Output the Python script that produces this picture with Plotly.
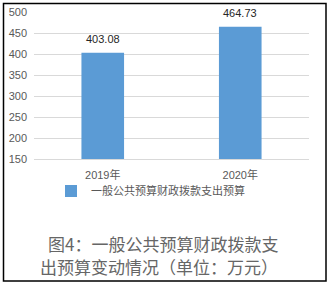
import plotly.graph_objects as go

categories = ["2019年", "2020年"]
values = [403.08, 464.73]
series_name = "一般公共预算财政拨款支出预算"
title_lines = ["图4：一般公共预算财政拨款支", "出预算变动情况（单位：万元）"]
y_ticks = [150, 200, 250, 300, 350, 400, 450, 500]

W, H = 333, 287
L, R, T, B = 34, 309, 12, 159
pw, ph = R - L, B - T

def px_x(x):
    return (x - L) / pw

def px_y(y):
    return (B - y) / ph

fig = go.Figure()
fig.add_trace(go.Bar(
    x=categories, y=values, name=series_name,
    marker=dict(color="#5b9bd5", line=dict(width=0)),
    showlegend=True,
))

for c, v in zip(categories, values):
    fig.add_annotation(x=c, y=v, text=f"{v:.2f}", showarrow=False,
                       yshift=14, font=dict(size=11, color="#262626",
                                            family="Liberation Sans, Arial"))

for line, (xc, yc) in zip(title_lines, [(162.5, 243.5), (159, 266.5)]):
    fig.add_annotation(xref="paper", yref="paper", x=px_x(xc), y=px_y(yc),
                       xanchor="center", yanchor="middle", borderpad=0,
                       text=line, showarrow=False, align="center",
                       font=dict(size=17, color="#666666",
                                 family="Noto Sans CJK SC"))

fig.add_shape(type="rect", xref="paper", yref="paper",
              x0=px_x(3.5), x1=px_x(326), y0=px_y(281), y1=px_y(3.5),
              line=dict(color="black", width=1.5))

fig.update_layout(
    width=W, height=H,
    margin=dict(l=L, r=W - R, t=T, b=H - B, pad=0, autoexpand=False),
    paper_bgcolor="white", plot_bgcolor="white",
    bargap=0.69,
    font=dict(family="Liberation Sans, Noto Sans CJK SC", size=11, color="#595959"),
    xaxis=dict(showgrid=False, showline=True, linecolor="#d9d9d9", linewidth=1,
               ticks="", ticklabelstandoff=6, automargin=False,
               tickfont=dict(size=11, color="#595959")),
    yaxis=dict(range=[150, 500], tickvals=y_ticks, showgrid=True,
               gridcolor="#d9d9d9", gridwidth=1, zeroline=False,
               showline=False, ticks="", ticklabelstandoff=6, automargin=False,
               tickfont=dict(size=11, color="#595959")),
    legend=dict(orientation="h", x=px_x(51), y=px_y(191), xanchor="left",
                yanchor="middle", itemwidth=30, bgcolor="rgba(0,0,0,0)",
                font=dict(size=11, color="#595959",
                          family="Noto Sans CJK SC")),
)

fig.write_html("out.html")
